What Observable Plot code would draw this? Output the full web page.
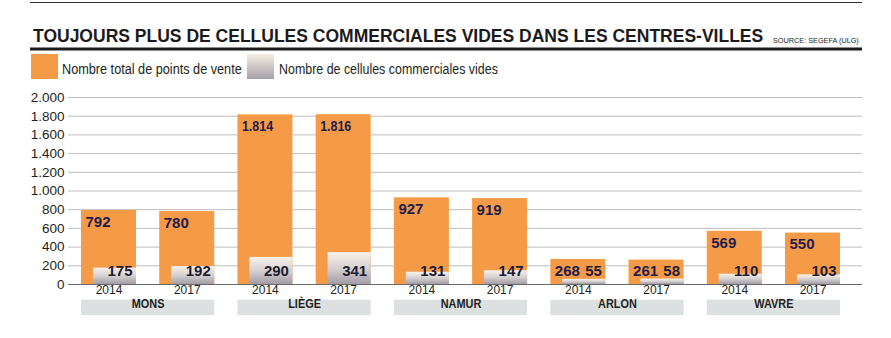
<!DOCTYPE html>
<html><head><meta charset="utf-8">
<script src="https://cdn.jsdelivr.net/npm/d3@7"></script>
<script src="https://cdn.jsdelivr.net/npm/@observablehq/plot@0.6"></script>
<style>
body{margin:0;background:#fff;font-family:"Liberation Sans",Arial,sans-serif;color:#231f20}
#wrap{position:relative;width:891px;height:338px;overflow:hidden;background:#fff}
#head{position:absolute;left:0;top:0}
#chart{position:absolute;left:0;top:85px}
</style></head><body>
<div id="wrap">
<svg id="head" width="891" height="85" xmlns="http://www.w3.org/2000/svg" font-family="Liberation Sans, Arial, sans-serif">
  <defs>
    <linearGradient id="gEmptyLegend" x1="0" y1="0" x2="0" y2="1">
      <stop offset="0" stop-color="#f6eee4"/>
      <stop offset="1" stop-color="#a59fa8"/>
    </linearGradient>
  </defs>
  <line x1="30" x2="862" y1="2.5" y2="2.5" stroke="#333" stroke-width="1"/>
  <text id="title" data-x="33" data-y="41.5" data-w="731" font-size="18.5" font-weight="bold" fill="#1c1a1b">TOUJOURS PLUS DE CELLULES COMMERCIALES VIDES DANS LES CENTRES-VILLES</text>
  <text id="source" data-x="773" data-y="43.3" data-w="86" font-size="8" fill="#231f20">SOURCE: SEGEFA (ULG)</text>
  <rect x="30" y="47.5" width="832" height="3" fill="#1c1a1b"/>
  <rect id="sw1" x="31" y="54" width="27" height="25" fill="#f59b47"/>
  <text id="leg1" data-x="62" data-y="74" data-w="180" font-size="15" fill="#231f20"></text>
  <rect id="sw2" x="247" y="54" width="27" height="25" fill="url(#gEmptyLegend)"/>
  <text id="leg2" data-x="279" data-y="74" data-w="219" font-size="15" fill="#231f20"></text>
</svg>
<div id="chart"></div>
</div>
<script>
// ---- data ----
const cities = ["MONS", "LIÈGE", "NAMUR", "ARLON", "WAVRE"];
const years = ["2014", "2017"];
const totals = [792, 780, 1814, 1816, 927, 919, 268, 261, 569, 550];
const empties = [175, 192, 290, 341, 131, 147, 55, 58, 110, 103];
const yTicks = [0, 200, 400, 600, 800, 1000, 1200, 1400, 1600, 1800, 2000];
const seriesNames = ["Nombre total de points de vente", "Nombre de cellules commerciales vides"];

// ---- derived tables ----
const bars = totals.map((t, i) => ({
  i, city: cities[Math.floor(i / 2)], year: years[i % 2], total: t, empty: empties[i]
}));
const groups = cities.map((c, g) => ({c, first: 2 * g, last: 2 * g + 1}));
const fmt = d => d3.format(",")(d).replace(/,/g, ".");

document.getElementById("leg1").textContent = seriesNames[0];
document.getElementById("leg2").textContent = seriesNames[1];

// fit header texts horizontally to the reference widths
document.querySelectorAll("#head text").forEach(t => {
  const x = +t.dataset.x, y = +t.dataset.y, w = +t.dataset.w;
  const nat = t.getComputedTextLength();
  const s = nat > 0 ? w / nat : 1;
  t.setAttribute("transform", `translate(${x},${y}) scale(${s},1)`);
});

const ORANGE = "#f59b47";
const hw = 0.3516;      // half bar width in index units
const emptyOff = 0.153; // gray bar left offset
const W = 891, H = 253, mT = 12, mB = 54, frameH = H - mT - mB;

const svg = Plot.plot({
  width: W, height: H,
  marginLeft: 68, marginRight: 29, marginTop: mT, marginBottom: mB,
  style: {fontFamily: "Liberation Sans, Arial, sans-serif", fontSize: "13.5px", color: "#231f20", background: "#fff"},
  x: {domain: [-0.5178, 9.633], axis: null},
  y: {domain: [0, 2000], ticks: yTicks, tickFormat: fmt, tickSize: 0, tickPadding: 4, label: null},
  marks: [
    Plot.ruleY(yTicks.filter(d => d > 0), {stroke: "#bdbdbd", strokeWidth: 1}),
    Plot.rect(bars, {x1: d => d.i - hw, x2: d => d.i + hw, y1: 0, y2: "total", fill: ORANGE}),
    Plot.rect(bars, {x1: d => d.i - hw + emptyOff, x2: d => d.i + hw, y1: 0, y2: "empty", fill: "url(#gEmpty)"}),
    Plot.ruleY([0], {stroke: "#6b6b6b", strokeWidth: 1}),
    Plot.text(bars, {x: d => d.i - hw, y: "total", text: d => fmt(d.total), textAnchor: "start",
      dx: 4, dy: 11.5, fontSize: 15, fontWeight: "bold", fill: "#1f1c4a"}),
    Plot.text(bars, {x: d => d.i + hw, text: d => fmt(d.empty), frameAnchor: "bottom", textAnchor: "end",
      dx: -4, dy: -8.5, fontSize: 15, fontWeight: "bold", fill: "#1e1c30"}),
    Plot.text(bars, {x: "i", text: "year", frameAnchor: "bottom", dy: 9.5, fontSize: 12, fill: "#231f20"}),
    Plot.rect(groups, {x1: d => d.first - hw, x2: d => d.last + hw, fill: "#dde0e0",
      insetTop: frameH + 15.7, insetBottom: -31}),
    Plot.text(groups, {x: d => (d.first + d.last) / 2, text: "c", frameAnchor: "bottom", dy: 23.3,
      fontSize: 13, fontWeight: "bold", fill: "#231f20"})
  ]
});
d3.select(svg).insert("defs", ":first-child").html(
  '<linearGradient id="gEmpty" x1="0" y1="0" x2="0" y2="1">' +
  '<stop offset="0" stop-color="#f8f2ea"/><stop offset="0.5" stop-color="#d6d1d1"/><stop offset="1" stop-color="#a29ca6"/>' +
  '</linearGradient>');
document.getElementById("chart").appendChild(svg);

// condense some labels horizontally to mimic the narrower original typeface
const textGroups = svg.querySelectorAll('g[aria-label="text"]');
function squeeze(g, fn) {
  if (!g) return;
  g.querySelectorAll("text").forEach(t => {
    const s = fn(t.textContent);
    if (s === 1) return;
    const tr = t.getAttribute("transform") || "";
    if (tr) t.setAttribute("transform", tr + ` scale(${s},1)`);
    else {
      const x = +t.getAttribute("x") || 0, y = +t.getAttribute("y") || 0;
      t.removeAttribute("x"); t.removeAttribute("y");
      t.setAttribute("transform", `translate(${x},${y}) scale(${s},1)`);
    }
  });
}
squeeze(textGroups[0], s => s.includes(".") ? 0.83 : 1);
squeeze(textGroups[3], () => 0.84);
</script>
</body></html>
